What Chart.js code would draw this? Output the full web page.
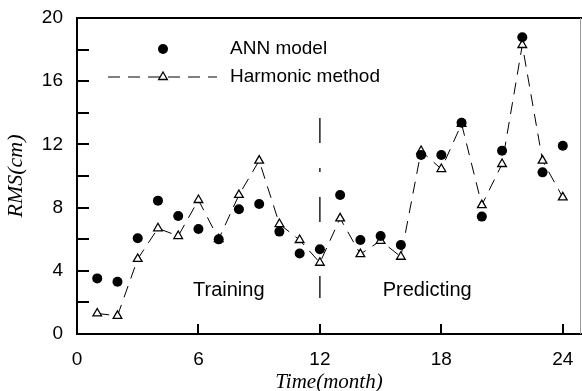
<!DOCTYPE html>
<html>
<head>
<meta charset="utf-8">
<script src="https://cdn.jsdelivr.net/npm/chart.js@4"></script>
<style>
html,body{margin:0;padding:0;background:#fff;}
#wrap{width:582px;height:391px;position:relative;}
</style>
</head>
<body>
<div id="wrap"><canvas id="c" width="582" height="391"></canvas></div>
<script>
const months = [1,2,3,4,5,6,7,8,9,10,11,12,13,14,15,16,17,18,19,20,21,22,23,24];
const annModel = [3.52,3.31,6.06,8.44,7.47,6.65,5.99,7.89,8.23,6.48,5.10,5.36,8.80,5.95,6.20,5.63,11.33,11.33,13.37,7.43,11.60,18.78,10.23,11.92];
const harmonic = [1.30,1.15,4.75,6.69,6.20,8.48,6.00,8.80,10.97,6.96,5.95,4.51,7.32,5.06,5.90,4.89,11.58,10.44,13.30,8.16,10.76,18.29,10.97,8.65];
const xTicks = [0,6,12,18,24];
const yLabelStep = 4;
const splitLine = [{x:12,y:13.67},{x:12,y:2.28}];
const seriesNames = ['ANN model','Harmonic method'];
const regionLabels = [{text:'Training',x:7.5,y:2.75},{text:'Predicting',x:17.3,y:2.75}];

const sans = "'Liberation Sans', Arial, sans-serif";
const serif = "'Liberation Serif', 'Times New Roman', serif";

const decorPlugin = {
  id:'decor',
  afterDraw(chart){
    const ctx = chart.ctx, a = chart.chartArea;
    const xs = chart.scales.x, ys = chart.scales.y;
    ctx.save();
    ctx.strokeStyle = '#000'; ctx.lineWidth = 2;
    ctx.beginPath(); ctx.moveTo(a.left-1, a.top); ctx.lineTo(chart.width, a.top); ctx.stroke();
    ctx.beginPath(); ctx.moveTo(a.left, a.bottom); ctx.lineTo(chart.width, a.bottom); ctx.stroke();
    ctx.strokeStyle = '#9a9a9a'; ctx.lineWidth = 1;
    ctx.beginPath(); ctx.moveTo(a.right-0.5, a.top); ctx.lineTo(a.right-0.5, a.bottom); ctx.stroke();
    ctx.strokeStyle = '#000'; ctx.lineWidth = 2;
    ys.ticks.forEach(t=>{
      const py = Math.round(ys.getPixelForValue(t.value));
      ctx.beginPath(); ctx.moveTo(a.left, py); ctx.lineTo(a.left+12, py); ctx.stroke();
    });
    xs.ticks.forEach(t=>{
      const px = Math.round(xs.getPixelForValue(t.value));
      ctx.beginPath(); ctx.moveTo(px, a.bottom); ctx.lineTo(px, a.bottom-10); ctx.stroke();
    });
    ctx.fillStyle = '#000';
    ctx.font = '20px ' + sans;
    ctx.textAlign = 'center'; ctx.textBaseline = 'middle';
    regionLabels.forEach(r=>{
      ctx.fillText(r.text, xs.getPixelForValue(r.x), ys.getPixelForValue(r.y));
    });
    const lx = a.left + 86, ty1 = a.top + 31, ty2 = a.top + 59;
    ctx.beginPath(); ctx.arc(lx, ty1, 5, 0, Math.PI*2); ctx.fillStyle='#000'; ctx.fill();
    ctx.strokeStyle='#000'; ctx.lineWidth=1; ctx.setLineDash([12,8]);
    ctx.beginPath(); ctx.moveTo(a.left+31, ty2); ctx.lineTo(a.left+140, ty2); ctx.stroke();
    ctx.setLineDash([]);
    ctx.beginPath();
    const r=5;
    ctx.moveTo(lx, ty2 - r); ctx.lineTo(lx + r*0.866, ty2 + r/2); ctx.lineTo(lx - r*0.866, ty2 + r/2); ctx.closePath();
    ctx.fillStyle='#fff'; ctx.fill(); ctx.lineWidth=1.3; ctx.stroke();
    ctx.fillStyle='#000'; ctx.font='19px '+sans; ctx.textAlign='left'; ctx.textBaseline='middle';
    ctx.fillText(seriesNames[0], a.left+153, ty1);
    ctx.fillText(seriesNames[1], a.left+153, ty2);
    ctx.restore();
  }
};

new Chart(document.getElementById('c'), {
  type:'scatter',
  data:{
    datasets:[
      {label:seriesNames[0], data:months.map((m,i)=>({x:m,y:annModel[i]})),
       pointStyle:'circle', pointRadius:5, backgroundColor:'#000', borderColor:'#000', borderWidth:0, showLine:false},
      {label:seriesNames[1], data:months.map((m,i)=>({x:m,y:harmonic[i]})),
       pointStyle:'triangle', pointRadius:5, backgroundColor:'#fff', borderColor:'#000', pointBorderWidth:1.3,
       showLine:true, borderWidth:1, borderDash:[12,8]},
      {label:'split', data:splitLine, showLine:true, pointRadius:0, borderColor:'#000', borderWidth:1.3, borderDash:[25,25,4,25]}
    ]
  },
  options:{
    responsive:false, animation:false,
    layout:{autoPadding:false, padding:{top:18,right:1,left:0,bottom:0}},
    plugins:{legend:{display:false}, tooltip:{enabled:false}},
    scales:{
      x:{type:'linear', min:0, max:24.9,
        afterBuildTicks(s){ s.ticks = xTicks.map(v=>({value:v})); },
        afterFit(s){ s.height = 57; s.paddingLeft = 0; s.paddingRight = 0; },
        grid:{display:false, drawTicks:false},
        border:{display:true, color:'#000', width:2},
        ticks:{color:'#000', padding:14, font:{family:sans, size:19}, autoSkip:false, maxRotation:0},
        title:{display:true, text:'Time(month)', color:'#000', font:{family:serif, size:21, style:'italic'}, padding:{top:0,bottom:-4}}
      },
      y:{type:'linear', min:0, max:20,
        afterFit(s){ s.width = 77; s.paddingTop = 0; s.paddingBottom = 0; },
        grid:{display:false, drawTicks:false},
        border:{display:true, color:'#000', width:2},
        ticks:{stepSize:2, color:'#000', padding:14, autoSkip:false, font:{family:sans, size:19},
          callback:(v)=> (v % yLabelStep === 0 ? v : '')},
        title:{display:true, text:'RMS(cm)', color:'#000', font:{family:serif, size:22, style:'italic'}, padding:{top:3,bottom:0}}
      }
    }
  },
  plugins:[decorPlugin]
});
</script>
</body>
</html>
